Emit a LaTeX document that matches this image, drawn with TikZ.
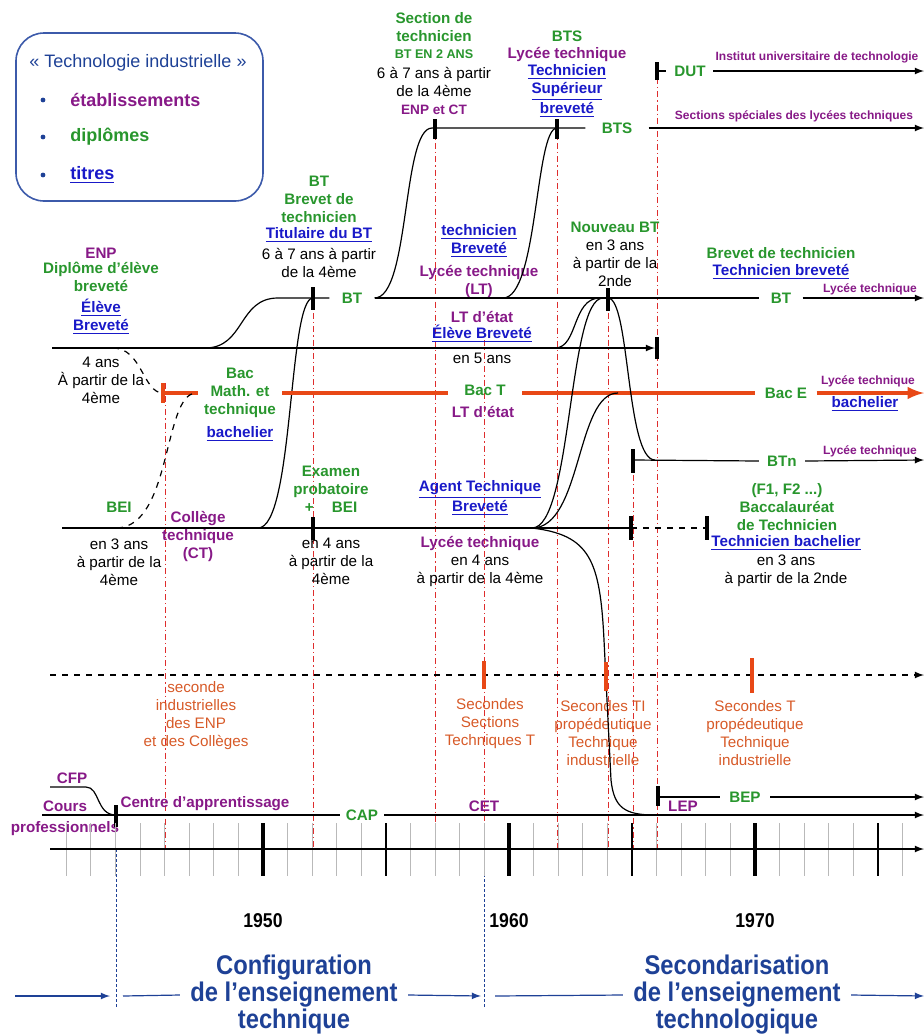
\documentclass[tikz,border=0pt]{standalone}
\usepackage{fontspec}
\setmainfont{Liberation Sans}
\newfontfamily\serree[FakeStretch=0.88]{Liberation Sans}
\usepackage{tikz}
\usetikzlibrary{arrows, positioning}

\definecolor{etabc}{RGB}{135,25,135}
\definecolor{diplc}{RGB}{40,150,45}
\definecolor{titrec}{RGB}{25,25,200}
\definecolor{secc}{RGB}{215,90,40}
\definecolor{bacc}{RGB}{232,72,22}
\definecolor{reperec}{RGB}{222,45,45}
\definecolor{periode}{RGB}{30,65,150}
\definecolor{cadre}{RGB}{60,90,170}

\newcommand{\souligne}[1]{\underline{#1}}

\begin{document}
\begin{tikzpicture}[x=0.5pt, y=-0.5pt, >=latex,
        every node/.style={align=center, inner sep=1pt,
                font=\fontsize{7.6}{9}\selectfont},
        etab/.style={text=etabc, font=\fontsize{7.6}{9}\selectfont\bfseries},
        dipl/.style={text=diplc, font=\fontsize{7.6}{9}\selectfont\bfseries},
        titre/.style={text=titrec, font=\fontsize{7.6}{9}\selectfont\bfseries},
        petit/.style={text=etabc, font=\fontsize{6}{7}\selectfont\bfseries},
        seconde/.style={text=secc},
        legende/.style={anchor=west, font=\fontsize{9}{11}\selectfont\bfseries},
        periodetxt/.style={text=periode, inner xsep=5pt,
                font=\serree\fontsize{13.5}{13.5}\selectfont\bfseries},
        millesime/.style={font=\serree\fontsize{10}{12}\selectfont\bfseries},
        ligne/.style={line width=0.6pt},
        jalon/.style={line width=1.6pt},
        bac/.style={draw=bacc, line width=1.8pt},
        repere/.style={draw=reperec, line width=0.5pt,
                dash pattern=on 3pt off 1.5pt on 0.6pt off 1.5pt},
        coupure/.style={draw=periode, line width=0.5pt,
                dash pattern=on 1.5pt off 1pt},
        fleche/.style={draw=periode, line width=0.6pt},
    ]

        \useasboundingbox (0,0) rectangle (924,1034);

        % reperes verticaux
        \draw[repere] (165,383) -- (165,849);
        \draw[repere] (313,300) -- (313,849);
        \draw[repere] (435,130) -- (435,849);
        \draw[repere] (484,340) -- (484,849);
        \draw[repere] (557,130) -- (557,849);
        \draw[repere] (608,300) -- (608,849);
        \draw[repere] (633,462) -- (633,849);
        \draw[repere] (657,65) -- (657,849);
        \draw[coupure] (116,849) -- (116,1008);
        \draw[coupure] (484,849) -- (484,1008);

        % legende
        \draw[cadre, line width=0.8pt, rounded corners=14pt] (16,33) rectangle (263,201);
        \node[text=periode, font=\fontsize{9}{11}\selectfont] (legtitre) at (138,63) {« Technologie industrielle »};
        \fill[periode] (43,100) circle (1.2pt);
        \fill[periode] (43,137) circle (1.2pt);
        \fill[periode] (43,175) circle (1.2pt);
        \node[legende, text=etabc] (legetab) at (68,100) {établissements};
        \node[legende, text=diplc] (legdipl) at (68,137) {diplômes};
        \node[legende, text=titrec] (legtitr) at (68,175) {\souligne{titres}};

        % textes du haut
        \node[dipl] (sectech) at (434,27) {Section de\\technicien};
        \node[dipl, font=\fontsize{6.3}{7}\selectfont\bfseries] (bt2ans) at (434,54) {BT EN 2 ANS};
        \node (sectduree) at (434,82) {6 à 7 ans à partir\\de la 4ème};
        \node[etab, font=\fontsize{6.8}{8}\selectfont\bfseries] (enpct) at (434,110) {ENP et CT};

        \node[dipl] (btsh) at (567,36) {BTS};
        \node[etab] (btslt) at (567,54) {Lycée technique};
        \node[titre] (btstit) at (567,91) {\souligne{Technicien}\\\souligne{Supérieur}\\\souligne{breveté}};

        \node[dipl] (btg) at (319,199) {BT\\Brevet de\\technicien};
        \node[titre] (bttit) at (319,235) {\souligne{Titulaire du BT}};
        \node (btduree) at (319,263) {6 à 7 ans à partir\\de la 4ème};

        \node[etab] (enp) at (101,253) {ENP};
        \node[dipl] (enpdip) at (101,277) {Diplôme d’élève\\breveté};
        \node[titre] (enptit) at (101,317) {\souligne{Élève}\\\souligne{Breveté}};

        \node[titre] (lttit) at (479,241) {\souligne{technicien}\\\souligne{Breveté}};
        \node[etab] (lt) at (479,281) {Lycée technique\\(LT)};

        \node[dipl] (nbt) at (615,227) {Nouveau BT};
        \node (nbtduree) at (615,263) {en 3 ans\\à partir de la\\2nde};

        \node[dipl] (brevtech) at (781,253) {Brevet de technicien};
        \node[titre] (techbrev) at (781,272) {\souligne{Technicien breveté}};

        \node[etab] (ltetat) at (482,317) {LT d’état};
        \node[titre] (elevebrev) at (482,334) {\souligne{Élève Breveté}};
        \node (cinqans) at (482,358) {en 5 ans};

        \node (quatreans) at (101,380) {4 ans\\À partir de la\\4ème};

        \node[dipl, inner xsep=3pt] (bacm) at (240,393) {Bac\\Math. et\\technique};
        \node[titre] (bachm) at (240,434) {\souligne{bachelier}};
        \node[dipl, inner xsep=8pt] (bact) at (485,390) {Bac T};
        \node[etab] (bactlt) at (483,412) {LT d’état};
        \node[dipl, inner xsep=4.5pt] (bace) at (786,393) {Bac E};
        \node[petit] (bacelt) at (868,381) {Lycée technique};
        \node[titre] (bacetit) at (865,404) {\souligne{bachelier}};

        \node[petit] (btlt) at (870,289) {Lycée technique};
        \node[petit] (btnlt) at (870,451) {Lycée technique};

        \node[dipl] (ftech) at (787,507) {(F1, F2 ...)\\Baccalauréat\\de Technicien};
        \node[titre] (techbach) at (786,543) {\souligne{Technicien bachelier}};
        \node (ftduree) at (786,571) {en 3 ans\\à partir de la 2nde};

        \node[dipl] (exam) at (331,489) {Examen\\probatoire\\+\hspace{1.2em}BEI};
        \node (ctduree) at (331,561) {en 4 ans\\à partir de la\\4ème};

        \node[dipl] (bei) at (119,507) {BEI};
        \node (beiduree) at (119,562) {en 3 ans\\à partir de la\\4ème};
        \node[etab] (ct) at (198,536) {Collège\\technique\\(CT)};

        \node[titre] (agtech) at (480,498) {\souligne{Agent Technique}\\\souligne{Breveté}};
        \node[etab] (ltq) at (480,543) {Lycée technique};
        \node (ltqduree) at (480,571) {en 4 ans\\à partir de la 4ème};

        \node[seconde] (secind) at (196,716) {seconde\\industrielles\\des ENP\\et des Collèges};
        \node[seconde] (secst) at (490,724) {Secondes\\Sections\\Techniques T};
        \node[seconde] (secti) at (603,733) {Secondes TI\\propédeutique\\Technique\\industrielle};
        \node[seconde] (sect) at (755,733) {Secondes T\\propédeutique\\Technique\\industrielle};

        \node[etab] (cfp) at (72,778) {CFP};
        \node[etab] (cours) at (65,806) {Cours};
        \node[etab] (prof) at (65,829) {professionnels};
        \node[etab] (capp) at (205,804) {Centre d’apprentissage};
        \node[etab] (cet) at (484,806) {CET};
        \node[etab] (lep) at (683,806) {LEP};

        % labels places sur les lignes
        \node[dipl, inner xsep=3.5pt] (dut) at (690,71) {DUT};
        \node[petit] (iut) at (817,57) {Institut universitaire de technologie};
        \node[dipl, inner xsep=8pt] (bts) at (617,128) {BTS};
        \node[petit] (ssl) at (794,116) {Sections spéciales des lycées techniques};
        \node[dipl, inner xsep=6pt] (bta) at (352,298) {BT};
        \node[dipl, inner xsep=5.5pt] (btb) at (781,298) {BT};
        \node[dipl, inner xsep=4pt] (btn) at (782,461) {BTn};
        \node[dipl, inner xsep=4.5pt] (bep) at (745,797) {BEP};
        \node[dipl, inner xsep=3pt] (cap) at (362,815) {CAP};

        % DUT
        \draw[jalon] (657,62) -- (657,80);
        \draw[ligne] (657,71) -- (666,71);
        \draw[->, ligne] (dut.east) -- (924,71);

        % BTS
        \draw[jalon] (435,119) -- (435,139);
        \draw[jalon] (557,119) -- (557,139);
        \draw[ligne] (bta.east) .. controls (410,298) and (402,128) .. (432,128) -- (bts.west);
        \draw[ligne] (503,298) .. controls (538,298) and (535,128) .. (557,128);
        \draw[->, ligne] (bts.east) -- (924,128);

        % BT
        \draw[ligne] (205,348) .. controls (245,348) and (238,298) .. (278,298) -- (bta.west);
        \draw[ligne] (258,528) .. controls (294,528) and (288,298) .. (313,298);
        \draw[jalon] (313,287) -- (313,310);
        \draw[ligne] (bta.east) -- (btb.west);
        \draw[->, ligne] (btb.east) -- (924,298);
        \draw[jalon] (608,288) -- (608,311);

        % ENP -> LT d'etat
        \draw[-latex, ligne] (52,348) -- (655,348);
        \draw[jalon] (657,337) -- (657,359);
        \draw[ligne, dashed] (113,348) .. controls (142,348) and (143,393) .. (163,393);
        \draw[ligne] (555,348) .. controls (578,348) and (572,298) .. (600,298);

        % Bac
        \draw[bac] (163,383) -- (163,403);
        \draw[bac] (163,393) -- (bacm.west);
        \draw[bac] (bacm.east) -- (bacm.east -| bact.west);
        \draw[bac] (bact.east |- bacm.east) -- (bace.west);
        \draw[bac, ->] (bace.east) -- (924,393);
        \draw[ligne, dashed] (117,528) .. controls (172,526) and (163,394) .. (196,393);

        % BTn
        \draw[jalon] (633,449) -- (633,473);
        \draw[ligne] (633,460) -- (btn.west);
        \draw[->, ligne] (btn.east) -- (924,460);
        \draw[ligne] (608,298) .. controls (630,298) and (626,460) .. (655,460);

        % BEI, CT, Lycee technique
        \draw[ligne] (62,528) -- (631,528);
        \draw[jalon] (313,517) -- (313,540);
        \draw[jalon] (631,516) -- (631,540);
        \draw[ligne, dashed] (631,528) -- (707,528);
        \draw[jalon] (707,516) -- (707,540);
        \draw[ligne] (532,528) .. controls (572,528) and (568,298) .. (603,298);
        \draw[ligne] (532,528) .. controls (582,528) and (576,393) .. (618,393);
        \draw[ligne] (532,528) .. controls (590,535) and (600,560) .. (604,640)
                -- (611,780) .. controls (614,808) and (625,815) .. (655,815);

        % secondes
        \draw[->, ligne, dashed] (50,675) -- (924,675);
        \draw[jalon, bacc] (484,661) -- (484,689);
        \draw[jalon, bacc] (606,662) -- (606,691);
        \draw[jalon, bacc] (752,658) -- (752,693);

        % BEP
        \draw[jalon] (658,786) -- (658,806);
        \draw[ligne] (658,797) -- (bep.west);
        \draw[->, ligne] (bep.east) -- (924,797);

        % CAP
        \draw[ligne] (42,815) -- (cap.west);
        \draw[->, ligne] (cap.east) -- (924,815);
        \draw[jalon] (116,805) -- (116,827);
        \draw[ligne] (50,787) -- (86,787) .. controls (100,787) and (96,815) .. (116,815);

        % axe du temps
        \foreach \an in {1942,...,1976}
            \draw[gray!55, line width=0.5pt] ({263+(\an-1950)*24.6},823) -- ++(0,53);
        \foreach \an in {1955,1965,1975}
            \draw[line width=0.6pt] ({263+(\an-1950)*24.6},823) -- ++(0,53);
        \foreach \an in {1950,1960,1970} {
            \draw[line width=2.2pt] ({263+(\an-1950)*24.6},823) -- ++(0,53);
            \node[millesime] (y\an) at ({263+(\an-1950)*24.6},921) {\an};
        }
        \draw[->, ligne] (50,849) -- (924,849);

        % periodes
        \node[periodetxt] (config) at (294,995) {Configuration\\de l’enseignement\\technique};
        \node[periodetxt] (secondar) at (737,995) {Secondarisation\\de l’enseignement\\technologique};
        \draw[->, fleche] (15,996) -- (110,996);
        \draw[fleche] (123,996) -- (config.west);
        \draw[->, fleche] (config.east) -- (481,996);
        \draw[fleche] (495,996) -- (secondar.west);
        \draw[->, fleche] (secondar.east) -- (924,996);

    \end{tikzpicture}
\end{document}
